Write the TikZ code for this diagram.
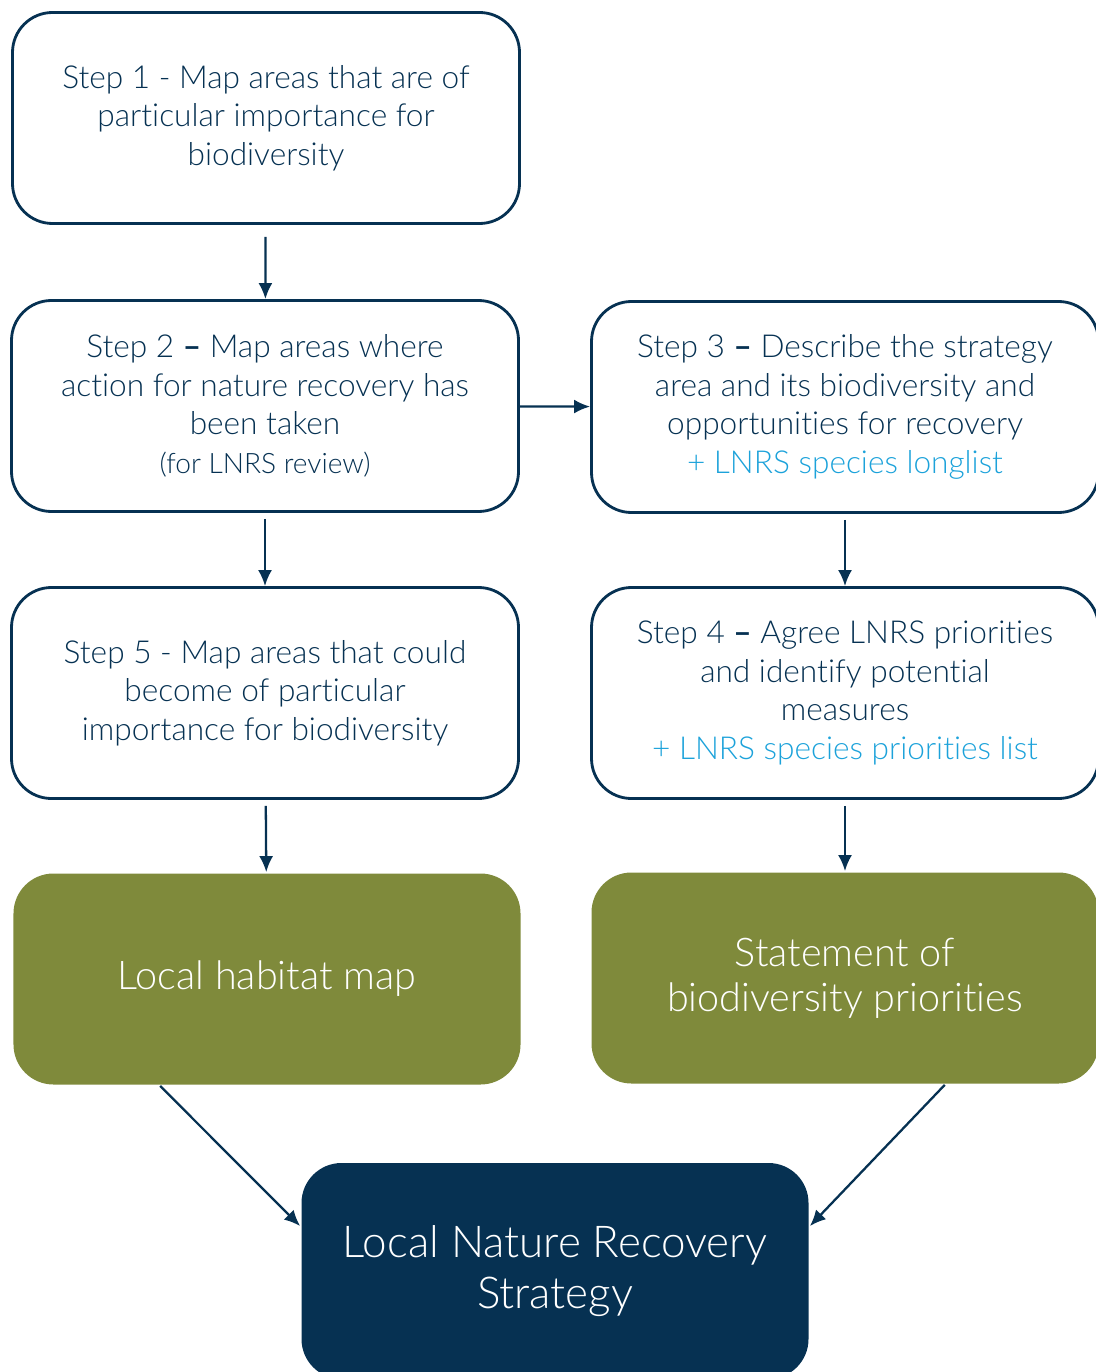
\documentclass[tikz,border=0pt]{standalone}
\usepackage{fontspec}
\setmainfont{Lato Light}[Ligatures=NoCommon]
\newfontfamily\heavy{Lato}
\usepackage{tikz}
\usetikzlibrary{calc, positioning, arrows.meta}
\definecolor{navy}{HTML}{063152}
\definecolor{sky}{HTML}{1CA2DA}
\definecolor{olive}{HTML}{7F8A3B}
\newcommand{\sdash}{{\heavy\bfseries –}}
\tikzstyle{box}=[draw=navy, line width=1.6pt, rounded corners=8mm, minimum width=101.4mm, minimum height=42.2mm, align=center, text=navy, font=\fontsize{18}{21.9}\selectfont]
\tikzstyle{outbox}=[box, draw=none, fill=olive, text=white, font=\fontsize{22.5}{25.6}\selectfont]
\tikzstyle{flow}=[->, draw=navy, line width=1.3pt]
\tikzset{>={Latex[length=3.2mm,width=2.8mm]}}

\begin{document}
\begin{tikzpicture}[x=0.2mm, y=-0.2mm]
\useasboundingbox (0,0) rectangle (1096,1372);
\node[box] (S1) at (266,118) {Step 1 - Map areas that are of\\ particular importance for\\ biodiversity};
\node[box] (S2) at (265,406) {Step 2 \sdash{} Map areas where\\ action for nature recovery has\\ been taken\\ {\fontsize{16}{19}\selectfont(for LNRS review)}};
\node[box] (S3) at (845,407) {Step 3 \sdash{} Describe the strategy\\ area and its biodiversity and\\ opportunities for recovery\\ \textcolor{sky}{+ LNRS species longlist}};
\node[box] (S5) at (265,693) {Step 5 - Map areas that could\\ become of particular\\ importance for biodiversity};
\node[box] (S4) at (845,693) {Step 4 \sdash{} Agree LNRS priorities\\ and identify potential\\ measures\\ \textcolor{sky}{+ LNRS species priorities list}};
\node[outbox] (H) at (267,979) {Local habitat map};
\node[outbox] (P) at (845,978) {Statement of\\ biodiversity priorities};
\node[outbox, fill=navy, minimum height=43.2mm, font=\fontsize{25}{29.5}\selectfont] (L) at (555,1271) {Local Nature Recovery\\ Strategy};

\draw[flow, shorten <=2.4mm] (S1) -- (S2);
\draw[flow] (S2) -- (S3);
\draw[flow, shorten <=1.2mm] (S2) -- (S5);
\draw[flow, shorten <=1.2mm] (S3) -- (S4);
\draw[flow, shorten <=1.2mm] (S5) -- (H);
\draw[flow, shorten <=1.2mm] (S4) -- (P);
\draw[flow] (H.225) -- (L.170);
\draw[flow] (P.-47) -- (L.10);
\end{tikzpicture}
\end{document}
